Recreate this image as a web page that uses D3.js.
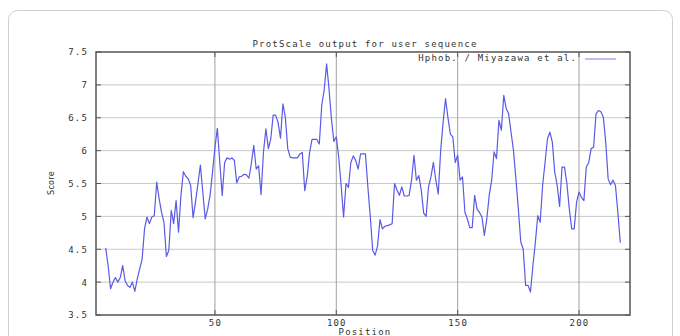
<!DOCTYPE html>
<html><head><meta charset="utf-8">
<script src="https://cdn.jsdelivr.net/npm/d3@7/dist/d3.min.js"></script>
<style>
html,body{margin:0;padding:0;background:#fff;}
svg text{font-family:"DejaVu Sans Mono",monospace;font-size:9px;letter-spacing:1.2px;fill:#333;}
</style></head>
<body><svg id="c" width="680" height="336"></svg>
<script>
const title = "ProtScale output for user sequence";
const seriesName = "Hphob. / Miyazawa et al.";
const xLabel = "Position";
const yLabel = "Score";
const startPosition = 5;
const xDomain = [1, 221];
const yDomain = [3.5, 7.5];
const xTicks = [50, 100, 150, 200];
const yTicks = [3.5, 4, 4.5, 5, 5.5, 6, 6.5, 7, 7.5];
const scores = [
4.52,4.25,3.90,4.00,4.07,4.00,4.07,4.25,4.02,3.95,
3.92,4.00,3.86,4.05,4.20,4.35,4.81,4.99,4.89,4.99,
5.01,5.52,5.27,5.06,4.91,4.39,4.48,5.09,4.89,5.24,
4.76,5.32,5.68,5.61,5.57,5.47,4.98,5.22,5.50,5.78,
5.37,4.96,5.11,5.32,5.67,6.05,6.34,5.82,5.32,5.82,
5.89,5.87,5.89,5.85,5.51,5.60,5.61,5.64,5.63,5.58,
5.80,6.08,5.72,5.77,5.33,5.98,6.33,6.03,6.18,6.54,
6.54,6.43,6.19,6.71,6.51,6.03,5.90,5.89,5.89,5.89,
5.95,5.97,5.39,5.60,5.97,6.17,6.17,6.17,6.10,6.69,
6.92,7.32,6.94,6.48,6.14,6.21,5.90,5.47,4.99,5.50,
5.44,5.82,5.92,5.85,5.72,5.95,5.95,5.95,5.45,5.00,
4.48,4.41,4.55,4.95,4.81,4.85,4.86,4.87,4.89,5.50,
5.40,5.32,5.45,5.31,5.31,5.32,5.55,5.93,5.55,5.62,
5.40,5.05,5.00,5.45,5.60,5.82,5.55,5.34,6.00,6.43,
6.79,6.50,6.25,6.21,5.82,5.93,5.55,5.60,5.06,4.96,
4.83,4.83,5.32,5.11,5.06,4.99,4.71,4.96,5.32,5.55,
5.98,5.88,6.46,6.31,6.84,6.64,6.56,6.28,6.00,5.57,
5.11,4.61,4.50,3.95,3.95,3.85,4.25,4.60,5.01,4.91,
5.47,5.82,6.18,6.28,6.13,5.67,5.47,5.15,5.75,5.75,
5.50,5.11,4.81,4.81,5.22,5.37,5.29,5.24,5.75,5.82,
6.03,6.05,6.56,6.61,6.59,6.51,6.13,5.57,5.48,5.55,
5.47,5.06,4.60
];

const svg = d3.select("#c");
const L = 96, R = 630, T = 52, B = 315;
const x = d3.scaleLinear().domain(xDomain).range([L, R]);
const y = d3.scaleLinear().domain(yDomain).range([B, T]);

// outer card frame
svg.append("rect").attr("x", 8.5).attr("y", 10.5).attr("width", 664).attr("height", 340)
  .attr("rx", 9).attr("fill", "none").attr("stroke", "#d0d0d0").attr("stroke-width", 1);

// grid
svg.append("g").selectAll("line").data(yTicks.slice(1, -1)).join("line")
  .attr("x1", L).attr("x2", R).attr("y1", d => y(d)).attr("y2", d => y(d))
  .attr("stroke", "#c8c8c8").attr("stroke-width", 1);
svg.append("g").selectAll("line").data(xTicks).join("line")
  .attr("x1", d => x(d)).attr("x2", d => x(d)).attr("y1", T).attr("y2", B)
  .attr("stroke", "#a0a0a0").attr("stroke-width", 1);

// axes (ticks + labels)
const yAxis = d3.axisLeft(y).tickValues(yTicks).tickSize(0).tickPadding(8)
  .tickFormat(d => String(d));
const gy = svg.append("g").attr("transform", `translate(${L},0)`).call(yAxis);
gy.select(".domain").remove();
gy.selectAll("text").attr("font-size", null).attr("font-family", null).attr("fill", "#333");

const xAxis = d3.axisBottom(x).tickValues(xTicks).tickSize(0).tickPadding(5)
  .tickFormat(d => String(d));
const gx = svg.append("g").attr("transform", `translate(0,${B})`).call(xAxis);
gx.select(".domain").remove();
gx.selectAll("text").attr("font-size", null).attr("font-family", null).attr("fill", "#333");

// small ticks on borders
const tk = svg.append("g").attr("stroke", "#555").attr("stroke-width", 1);
yTicks.forEach(v => {
  tk.append("line").attr("x1", L).attr("x2", L + 5).attr("y1", y(v)).attr("y2", y(v));
  tk.append("line").attr("x1", R - 5).attr("x2", R).attr("y1", y(v)).attr("y2", y(v));
});
xTicks.forEach(v => {
  tk.append("line").attr("x1", x(v)).attr("x2", x(v)).attr("y1", B).attr("y2", B - 5);
  tk.append("line").attr("x1", x(v)).attr("x2", x(v)).attr("y1", T).attr("y2", T + 5);
});

// data line
const data = scores.map((v, i) => ({p: startPosition + i, v}));
svg.append("path").datum(data)
  .attr("fill", "none").attr("stroke", "#5a5ae6").attr("stroke-width", 1.2)
  .attr("stroke-linejoin", "round")
  .attr("d", d3.line().x(d => x(d.p)).y(d => y(d.v)));

// frame
svg.append("rect").attr("x", L).attr("y", T).attr("width", R - L).attr("height", B - T)
  .attr("fill", "none").attr("stroke", "#555").attr("stroke-width", 1.5);

// legend
svg.append("text").attr("x", 577).attr("y", 61).attr("text-anchor", "end").text(seriesName);
svg.append("line").attr("x1", 585).attr("x2", 616).attr("y1", 59).attr("y2", 59)
  .attr("stroke", "#a8a8ee").attr("stroke-width", 1.5);

// titles
svg.append("text").attr("x", 365).attr("y", 47).attr("text-anchor", "middle").text(title);
svg.append("text").attr("x", 365).attr("y", 335).attr("text-anchor", "middle").text(xLabel);
svg.append("text").attr("transform", "translate(54,183) rotate(-90)")
  .attr("text-anchor", "middle")
  .style("font-family", "'DejaVu Sans',sans-serif").style("letter-spacing", "0.3px")
  .style("font-size", "8px").attr("fill", "#555").text(yLabel);
</script></body></html>
